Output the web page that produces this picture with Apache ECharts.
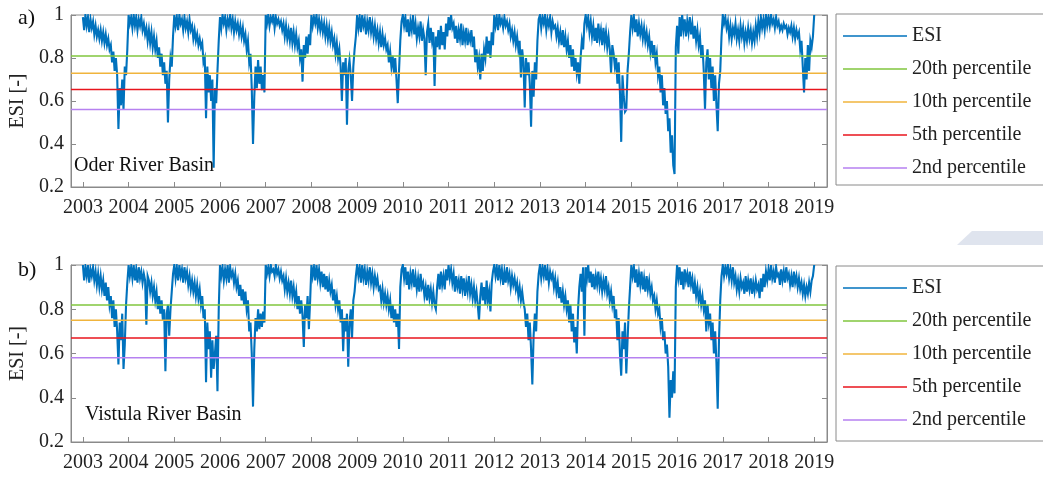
<!DOCTYPE html>
<html><head><meta charset="utf-8">
<script src="https://cdn.jsdelivr.net/npm/echarts@6/dist/echarts.min.js"></script>
<style>html,body{margin:0;padding:0;background:#fff}#c{width:1043px;height:478px}</style>
</head><body><div id="c"></div>
<script>
// ---------- data ----------
const yearTicks = [2003,2004,2005,2006,2007,2008,2009,2010,2011,2012,2013,2014,2015,2016,2017,2018,2019];
const yTicks = [0.2,0.4,0.6,0.8,1];
const startYear = 2003;
const stepsPerYear = 36;
const seriesNames = ['ESI','20th percentile','10th percentile','5th percentile','2nd percentile'];
const panelLabels = ['a)','b)'];
const basinNames = ['Oder River Basin','Vistula River Basin'];
const oderPercentiles = [0.809, 0.729, 0.654, 0.561];
const vistulaPercentiles = [0.819, 0.750, 0.670, 0.581];

const oderESI = [
/*2003*/0.99,0.93,1.0,0.95,0.99,0.92,0.98,0.94,0.97,0.91,0.95,0.90,0.93,0.89,0.93,0.88,0.92,0.87,0.91,0.86,0.89,0.84,0.86,0.78,0.83,0.74,0.80,0.72,0.47,0.66,0.58,0.70,0.56,0.76,0.72,0.84,
/*2004*/1.0,0.96,0.99,0.94,1.0,0.95,0.99,0.93,0.98,0.95,0.99,0.93,0.96,0.91,0.94,0.88,0.93,0.87,0.92,0.85,0.90,0.84,0.88,0.80,0.85,0.76,0.82,0.72,0.78,0.68,0.74,0.50,0.70,0.80,0.76,0.90,
/*2005*/1.0,0.95,0.99,0.93,1.0,0.96,0.98,0.93,0.99,0.94,0.97,0.92,0.98,0.93,0.95,0.89,0.93,0.88,0.91,0.86,0.89,0.85,0.87,0.78,0.80,0.52,0.76,0.64,0.72,0.60,0.70,0.29,0.66,0.59,0.74,0.88,
/*2006*/0.99,0.94,1.0,0.96,0.99,0.93,0.98,0.95,1.0,0.94,0.98,0.92,0.97,0.93,0.96,0.91,0.95,0.90,0.94,0.88,0.91,0.84,0.88,0.78,0.82,0.66,0.40,0.62,0.76,0.66,0.79,0.68,0.76,0.65,0.72,0.64,
/*2007*/1.0,0.96,1.0,0.95,0.99,0.97,1.0,0.94,0.99,0.96,0.98,0.95,0.97,0.93,0.96,0.90,0.95,0.89,0.93,0.88,0.94,0.87,0.92,0.86,0.91,0.85,0.88,0.80,0.84,0.69,0.86,0.80,0.90,0.82,0.91,0.86,
/*2008*/1.0,0.95,0.99,0.96,1.0,0.94,0.98,0.93,0.97,0.92,0.96,0.90,0.95,0.89,0.94,0.88,0.92,0.86,0.89,0.82,0.87,0.80,0.84,0.76,0.60,0.78,0.72,0.80,0.49,0.74,0.79,0.72,0.60,0.76,0.84,0.90,
/*2009*/1.0,0.94,0.99,0.92,1.0,0.95,0.98,0.91,0.97,0.93,0.99,0.92,0.96,0.90,0.95,0.89,0.93,0.87,0.92,0.85,0.91,0.86,0.89,0.84,0.86,0.78,0.83,0.76,0.81,0.73,0.80,0.70,0.59,0.74,0.88,0.97,
/*2010*/1.0,0.95,0.99,0.92,0.98,0.90,0.97,0.93,1.0,0.91,0.96,0.89,0.94,0.90,0.97,0.88,0.93,0.89,0.72,0.92,0.96,0.87,0.94,0.88,0.92,0.67,0.90,0.85,0.93,0.84,0.95,0.86,0.92,0.84,0.96,0.90,
/*2011*/0.99,0.93,1.0,0.94,0.96,0.89,0.95,0.87,0.93,0.89,0.96,0.86,0.92,0.88,0.94,0.86,0.91,0.88,0.93,0.85,0.90,0.78,0.84,0.76,0.80,0.70,0.82,0.74,0.84,0.80,0.90,0.82,0.88,0.80,0.92,0.86,
/*2012*/1.0,0.95,0.99,0.93,1.0,0.96,0.98,0.94,0.99,0.95,0.97,0.93,0.96,0.90,0.93,0.88,0.92,0.86,0.90,0.84,0.88,0.71,0.84,0.78,0.57,0.80,0.72,0.78,0.68,0.48,0.74,0.62,0.78,0.70,0.88,0.98,
/*2013*/1.0,0.94,0.99,0.96,1.0,0.93,0.98,0.95,0.99,0.92,0.97,0.94,0.95,0.90,0.94,0.88,0.92,0.86,0.93,0.85,0.90,0.84,0.88,0.80,0.86,0.76,0.84,0.74,0.80,0.73,0.78,0.68,0.80,0.88,0.84,0.96,
/*2014*/1.0,0.95,0.99,0.92,0.97,0.90,0.95,0.88,0.94,0.87,0.96,0.89,0.93,0.86,0.94,0.87,0.92,0.85,0.90,0.84,0.73,0.86,0.82,0.76,0.80,0.68,0.78,0.64,0.41,0.72,0.62,0.55,0.56,0.74,0.82,0.92,
/*2015*/1.0,0.94,0.99,0.92,0.98,0.90,0.96,0.91,0.95,0.89,0.94,0.88,0.92,0.86,0.90,0.83,0.88,0.80,0.86,0.78,0.82,0.72,0.76,0.64,0.72,0.58,0.66,0.54,0.60,0.46,0.52,0.36,0.44,0.30,0.26,0.85,
/*2016*/0.95,0.82,0.99,0.90,1.0,0.93,0.98,0.90,0.97,0.92,0.99,0.91,0.96,0.89,0.95,0.88,0.93,0.86,0.90,0.80,0.86,0.74,0.56,0.78,0.84,0.70,0.80,0.66,0.76,0.60,0.72,0.58,0.46,0.68,0.74,0.90,
/*2017*/1.0,0.96,0.99,0.94,0.97,0.90,0.95,0.89,0.94,0.91,0.96,0.89,0.93,0.88,0.95,0.90,0.94,0.87,0.92,0.88,0.94,0.89,0.93,0.87,0.92,0.88,0.95,0.90,0.97,0.92,0.99,0.94,0.98,0.93,1.0,0.95,
/*2018*/0.99,0.95,1.0,0.96,0.98,0.94,0.99,0.95,0.97,0.93,0.95,0.93,0.96,0.94,0.95,0.91,0.94,0.92,0.95,0.90,0.94,0.89,0.93,0.90,0.92,0.84,0.88,0.76,0.64,0.80,0.70,0.86,0.74,0.88,0.85,0.90,
/*2019*/1.0
];

const vistulaESI = [
/*2003*/1.0,0.93,0.99,0.95,1.0,0.92,0.98,0.95,0.99,0.93,0.97,0.91,0.96,0.90,0.95,0.89,0.93,0.86,0.92,0.84,0.90,0.82,0.86,0.76,0.84,0.72,0.80,0.70,0.55,0.74,0.66,0.78,0.53,0.64,0.82,0.92,
/*2004*/1.0,0.95,0.99,0.94,1.0,0.93,0.98,0.92,0.99,0.94,0.97,0.92,0.96,0.93,0.73,0.95,0.93,0.88,0.92,0.86,0.90,0.84,0.88,0.80,0.86,0.78,0.84,0.75,0.80,0.52,0.78,0.82,0.68,0.80,0.88,0.96,
/*2005*/1.0,0.94,0.99,0.93,1.0,0.95,0.98,0.92,0.99,0.94,0.97,0.91,0.95,0.89,0.93,0.88,0.92,0.86,0.91,0.85,0.89,0.82,0.86,0.76,0.80,0.47,0.74,0.62,0.70,0.49,0.66,0.53,0.60,0.68,0.43,0.80,
/*2006*/1.0,0.95,0.99,0.93,0.98,0.94,1.0,0.92,0.99,0.95,0.97,0.92,0.96,0.90,0.93,0.86,0.91,0.84,0.89,0.82,0.88,0.80,0.84,0.70,0.74,0.60,0.36,0.62,0.76,0.70,0.80,0.71,0.78,0.72,0.79,0.74,
/*2007*/1.0,0.96,0.99,0.95,1.0,0.97,0.98,0.95,1.0,0.96,0.98,0.94,0.97,0.93,0.95,0.89,0.94,0.88,0.92,0.87,0.93,0.86,0.90,0.84,0.88,0.80,0.86,0.78,0.84,0.77,0.63,0.82,0.76,0.86,0.71,0.84,
/*2008*/1.0,0.95,0.99,0.93,1.0,0.94,0.98,0.92,0.97,0.90,0.96,0.89,0.95,0.88,0.93,0.88,0.91,0.84,0.89,0.82,0.86,0.80,0.84,0.74,0.80,0.61,0.76,0.70,0.78,0.54,0.74,0.80,0.67,0.84,0.88,0.95,
/*2009*/1.0,0.95,0.99,0.92,1.0,0.94,0.98,0.91,0.97,0.93,0.99,0.92,0.96,0.90,0.95,0.91,0.94,0.89,0.90,0.84,0.89,0.83,0.87,0.82,0.86,0.80,0.84,0.76,0.82,0.74,0.80,0.72,0.78,0.62,0.90,0.98,
/*2010*/1.0,0.94,0.99,0.91,0.97,0.89,0.96,0.92,0.98,0.90,0.95,0.89,0.94,0.88,0.96,0.90,0.92,0.86,0.90,0.84,0.91,0.85,0.89,0.83,0.88,0.82,0.80,0.90,0.96,0.89,0.97,0.91,0.95,0.89,0.98,0.93,
/*2011*/1.0,0.94,0.98,0.92,0.96,0.88,0.95,0.90,0.93,0.87,0.95,0.89,0.94,0.86,0.92,0.88,0.95,0.87,0.91,0.85,0.90,0.84,0.88,0.82,0.75,0.86,0.92,0.84,0.90,0.82,0.93,0.84,0.88,0.79,0.92,0.97,
/*2012*/1.0,0.95,0.99,0.93,1.0,0.94,0.98,0.91,0.97,0.92,0.99,0.93,0.96,0.90,0.95,0.91,0.94,0.89,0.92,0.86,0.90,0.84,0.88,0.83,0.80,0.72,0.78,0.66,0.74,0.62,0.46,0.68,0.78,0.70,0.88,0.96,
/*2013*/1.0,0.94,0.99,0.95,1.0,0.93,0.98,0.92,0.97,0.94,0.96,0.90,0.94,0.88,0.92,0.85,0.90,0.83,0.88,0.82,0.86,0.80,0.84,0.74,0.82,0.70,0.78,0.65,0.72,0.60,0.80,0.90,0.96,0.88,0.99,0.68,
/*2014*/0.99,0.94,1.0,0.92,0.97,0.90,0.96,0.89,0.95,0.91,0.97,0.90,0.94,0.88,0.93,0.89,0.95,0.87,0.90,0.84,0.88,0.82,0.86,0.76,0.80,0.66,0.76,0.60,0.50,0.70,0.62,0.74,0.51,0.66,0.80,0.90,
/*2015*/1.0,0.95,0.99,0.92,0.98,0.90,0.96,0.91,0.97,0.89,0.94,0.88,0.95,0.89,0.93,0.87,0.90,0.84,0.86,0.80,0.84,0.78,0.80,0.72,0.76,0.66,0.70,0.60,0.64,0.54,0.31,0.48,0.40,0.52,0.42,0.90,
/*2016*/1.0,0.94,0.99,0.91,0.97,0.89,0.98,0.93,0.96,0.90,0.97,0.91,0.94,0.87,0.92,0.86,0.90,0.84,0.88,0.82,0.86,0.80,0.84,0.70,0.82,0.74,0.78,0.66,0.74,0.60,0.70,0.56,0.35,0.66,0.84,0.95,
/*2017*/1.0,0.95,0.99,0.96,1.0,0.94,0.98,0.93,0.99,0.92,0.95,0.89,0.93,0.88,0.94,0.90,0.92,0.87,0.95,0.88,0.93,0.89,0.94,0.87,0.92,0.88,0.93,0.89,0.91,0.85,0.94,0.88,0.96,0.90,0.97,0.93,
/*2018*/0.98,0.93,1.0,0.94,0.97,0.92,0.99,0.95,0.96,0.91,0.98,0.93,0.97,0.92,0.99,0.94,0.96,0.91,0.95,0.90,0.97,0.92,0.95,0.90,0.94,0.89,0.92,0.87,0.91,0.86,0.90,0.87,0.92,0.88,0.93,0.95,
/*2019*/1.0
];

// ---------- chart ----------
const FONT = "'Liberation Serif','Times New Roman',serif";
const X_MIN = 2002.74, X_MAX = 2019.28;
const percentileColors = ['#80c63e','#f0b43c','#e8141c','#b681f0'];
const esiColor = '#0072bd';
const axisGray = '#8a8a8a';

const grids = [
  {left:71, top:15, width:756, height:172},
  {left:71, top:265, width:756, height:177}
];
const panels = [
  {esi: oderESI, pct: oderPercentiles},
  {esi: vistulaESI, pct: vistulaPercentiles}
];

const xAxes = [], yAxes = [], series = [], legends = [];
const legendTops = [14, 266];
const legendPadBottom = [8, 12];

panels.forEach((p, k) => {
  xAxes.push({
    type:'value', gridIndex:k, min:X_MIN, max:X_MAX,
    axisLine:{show:true, onZero:false, lineStyle:{color:axisGray, width:1}},
    axisTick:{show:true, inside:true, length:5, lineStyle:{color:axisGray}, customValues: yearTicks},
    axisLabel:{show:true, customValues: yearTicks, margin:11, color:'#222', fontFamily:FONT, fontSize:20,
      formatter: v => String(Math.round(v))},
    splitLine:{show:false}
  });
  yAxes.push({
    type:'value', gridIndex:k, min:0.2, max:1, interval:0.2,
    name:'ESI [-]', nameLocation:'middle', nameRotate:90, nameGap:43, nameMoveOverlap:false,
    nameTextStyle:{fontFamily:FONT, fontSize:20, color:'#222'},
    axisLine:{show:true, lineStyle:{color:axisGray}},
    axisTick:{show:true, inside:true, length:5, lineStyle:{color:axisGray}},
    axisLabel:{margin:7, color:'#222', fontFamily:FONT, fontSize:20,
      formatter: v => (Math.abs(v-1)<1e-9 ? '1' : v.toFixed(1))},
    splitLine:{show:false}
  });
  yAxes.push({
    type:'value', gridIndex:k, min:0.2, max:1, interval:0.2, position:'right',
    axisLine:{show:true, lineStyle:{color:axisGray}},
    axisTick:{show:true, inside:true, length:5, lineStyle:{color:axisGray}},
    axisLabel:{show:false}, splitLine:{show:false}
  });
  series.push({
    name: seriesNames[0], type:'line', xAxisIndex:k, yAxisIndex:2*k,
    data: p.esi.map((v,i) => [startYear + i/stepsPerYear, v]),
    symbol:'none', showSymbol:false, silent:true, animation:false, z:2,
    lineStyle:{color:esiColor, width:2.1, join:'miter'}, itemStyle:{color:esiColor}
  });
  p.pct.forEach((v, j) => {
    series.push({
      name: seriesNames[j+1], type:'line', xAxisIndex:k, yAxisIndex:2*k,
      data: [[X_MIN, v],[X_MAX, v]],
      symbol:'none', showSymbol:false, silent:true, animation:false, z:3,
      lineStyle:{color:percentileColors[j], width:1.5}, itemStyle:{color:percentileColors[j]}
    });
  });
  legends.push({
    orient:'vertical', left:836, top:legendTops[k],
    padding:[12, 40, legendPadBottom[k]-1, 7],
    icon:'rect', itemWidth:64, itemHeight:1.5, itemGap:13,
    borderColor:axisGray, borderWidth:1, backgroundColor:'#fff',
    selectedMode:false,
    textStyle:{fontFamily:FONT, fontSize:20, color:'#222', lineHeight:20},
    data: seriesNames.slice()
  });
});

const graphics = [
  {type:'text', left:18, top:7, style:{text:panelLabels[0], font:'22px '+FONT, fill:'#111'}},
  {type:'text', left:18, top:259, style:{text:panelLabels[1], font:'22px '+FONT, fill:'#111'}},
  {type:'text', left:74, top:156, z:10, style:{text:basinNames[0], font:'20px '+FONT, fill:'#111'}},
  {type:'text', left:85, top:405, z:10, style:{text:basinNames[1], font:'20px '+FONT, fill:'#111'}},
  {type:'polygon', shape:{points:[[957,245],[972,231],[1043,231],[1043,245]]}, style:{fill:'#dfe4ee'}}
];

const chart = echarts.init(document.getElementById('c'), null, {renderer:'canvas'});
chart.setOption({
  animation:false,
  backgroundColor:'#fff',
  grid: grids.map(g => Object.assign({show:true, borderColor:axisGray, borderWidth:1, containLabel:false}, g)),
  xAxis: xAxes,
  yAxis: yAxes,
  legend: legends,
  series: series,
  graphic: graphics
});
</script>
</body></html>
